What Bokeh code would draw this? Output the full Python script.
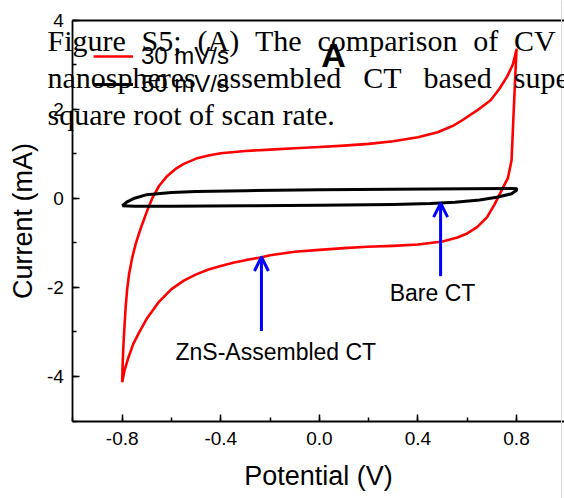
from bokeh.plotting import figure
from bokeh.models import (LinearAxis, SingleIntervalTicker, FixedTicker, PrintfTickFormatter, Label,
                          Arrow, OpenHead, Legend, LegendItem, Range1d, Span)
from bokeh.embed import file_html
from bokeh.resources import INLINE

# ---------------- data ----------------
# ZnS-assembled CT, red loop: anodic branch (-0.8 -> 0.8) then cathodic branch back
zns_v = [-0.800, -0.798, -0.795, -0.791, -0.786, -0.780, -0.772, -0.760, -0.745, -0.725,
         -0.700, -0.678, -0.650, -0.617, -0.580, -0.550, -0.500, -0.450, -0.400, -0.300,
         -0.200, -0.100, 0.000, 0.100, 0.200, 0.300, 0.400, 0.480, 0.540, 0.580,
         0.640, 0.695, 0.730, 0.762, 0.785, 0.800,
         0.793, 0.787, 0.780, 0.765, 0.740, 0.710, 0.680, 0.640, 0.600, 0.560,
         0.500, 0.400, 0.300, 0.194, 0.100, 0.000, -0.100, -0.200, -0.239, -0.300,
         -0.350, -0.400, -0.450, -0.500, -0.550, -0.600, -0.650, -0.700, -0.730, -0.755,
         -0.775, -0.790, -0.800]
zns_i = [-4.13, -3.70, -3.30, -2.90, -2.45, -2.05, -1.70, -1.35, -1.02, -0.68,
         -0.30, 0.00, 0.28, 0.50, 0.67, 0.77, 0.89, 0.96, 1.01, 1.06,
         1.09, 1.12, 1.15, 1.18, 1.22, 1.28, 1.37, 1.48, 1.62, 1.75,
         1.97, 2.20, 2.45, 2.73, 3.00, 3.33,
         2.50, 1.75, 0.85, 0.45, 0.18, -0.15, -0.43, -0.65, -0.79, -0.88,
         -0.97, -1.04, -1.07, -1.09, -1.12, -1.16, -1.20, -1.28, -1.33, -1.39,
         -1.45, -1.52, -1.60, -1.71, -1.85, -2.04, -2.32, -2.70, -3.00, -3.27,
         -3.58, -3.85, -4.13]

# Bare CT, black loop
bare_v = [-0.800, -0.780, -0.750, -0.700, -0.600, -0.500, -0.300, 0.000, 0.300, 0.600,
          0.780, 0.800, 0.800, 0.780, 0.720, 0.650, 0.550, 0.450, 0.300, 0.000,
          -0.300, -0.600, -0.750, -0.800]
bare_i = [-0.17, -0.08, 0.00, 0.08, 0.13, 0.15, 0.17, 0.19, 0.20, 0.21,
          0.22, 0.21, 0.18, 0.10, 0.02, -0.04, -0.09, -0.12, -0.14, -0.16,
          -0.17, -0.18, -0.18, -0.17]

legend_labels = ["30 mV/s", "50 mV/s"]

# annotation arrows: x, tail y, head y
arrow_x = [0.492, -0.235]
arrow_tail = [-1.75, -2.98]
arrow_head = [-0.11, -1.32]
arrow_texts = ["Bare CT", "ZnS-Assembled CT"]

caption_lines = [
    ["Figure", "S5;", "(A)", "The", "comparison", "of", "CV"],
    ["nanospheres", "assembled", "CT", "based", "supe"],
    ["square root of scan rate."],
]

x_label = "Potential (V)"
y_label = "Current (mA)"
panel_title = "A"

AX_X = (-1.0, None)   # x axis starts at -1.0 (open to the right edge)
AX_Y = (-5.0, 4.0)

# ---------------- layout: frame covers the whole canvas ----------------
W, H = 564, 498
kx = 1.6 / (516.0 - 121.7)          # V per pixel
X_START = -0.8 - 121.7 * kx
X_END = X_START + W * kx
ky = 9.0 / (420.5 - 19.5)           # mA per pixel
Y_END = 4.0 + 19.5 * ky
Y_START = Y_END - H * ky


def sx(px):
    return X_START + px * kx


def sy(py):
    return Y_END - py * ky


SANS = "Liberation Sans"
SERIF = "Liberation Serif"

p = figure(width=W, height=H, output_backend="svg", toolbar_location=None,
           x_range=Range1d(X_START, X_END), y_range=Range1d(Y_START, Y_END),
           min_border=0, x_axis_label=x_label, y_axis_label=y_label)
p.outline_line_color = None
p.grid.visible = False
p.background_fill_color = "white"
p.border_fill_color = "white"

xax = p.xaxis[0]
yax = p.yaxis[0]
xax.fixed_location = AX_Y[0]
xax.bounds = (AX_X[0], sx(581))
yax.fixed_location = AX_X[0]
yax.bounds = AX_Y

for ax, interval, fmt in ((xax, 0.4, "%.1f"), (yax, 2, "%d")):
    ax.ticker = SingleIntervalTicker(interval=interval, num_minor_ticks=2)
    ax.formatter = PrintfTickFormatter(format=fmt)
    ax.major_tick_in = 7
    ax.major_tick_out = 0
    ax.minor_tick_in = 4
    ax.minor_tick_out = 0
    ax.axis_line_width = 1.8
    ax.major_tick_line_width = 1.5
    ax.minor_tick_line_width = 1.5
    ax.axis_line_color = "black"
    ax.major_tick_line_color = "black"
    ax.minor_tick_line_color = "black"
    ax.major_label_text_font = SANS
    ax.major_label_text_font_size = "19px"
    ax.major_label_text_color = "black"
    ax.axis_label_text_font = SANS
    ax.axis_label_text_font_size = "27px"
    ax.axis_label_text_font_style = "normal"
    ax.axis_label_text_color = "black"
xax.major_label_standoff = 11
yax.major_label_standoff = 9
xax.axis_label_standoff = 12
yax.axis_label_standoff = 6

top = LinearAxis(ticker=FixedTicker(ticks=[]), major_tick_line_color=None,
                 minor_tick_line_color=None, axis_line_width=1.8, axis_line_color="black",
                 fixed_location=AX_Y[1], bounds=(AX_X[0], X_END))
p.add_layout(top, "above")

# faint border line seen at the right edge of the reference image
p.add_layout(Span(location=sx(561), dimension="height", line_color="#d8d8d8", line_width=1))

red = p.line(zns_v, zns_i, line_color="#ff0000", line_width=2.6, line_join="round")
blk = p.line(bare_v, bare_i, line_color="black", line_width=3, line_join="round")

for xv, yt, yh in zip(arrow_x, arrow_tail, arrow_head):
    p.add_layout(Arrow(end=OpenHead(size=14, line_color="#0000ff", line_width=3),
                       x_start=xv, y_start=yt, x_end=xv, y_end=yh,
                       line_color="#0000ff", line_width=3))

p.add_layout(Label(x=sx(432), y=sy(292), text=arrow_texts[0], text_align="center",
                   text_baseline="middle", text_font=SANS, text_font_size="23px",
                   text_color="black"))
p.add_layout(Label(x=sx(175), y=sy(351), text=arrow_texts[1], text_align="left",
                   text_baseline="middle", text_font=SANS, text_font_size="23px",
                   text_color="black"))

p.add_layout(Label(x=sx(333), y=sy(54), text=panel_title, text_align="center",
                   text_baseline="middle", text_font=SANS, text_font_size="34px",
                   text_font_style="bold", text_color="black"))

legend = Legend(items=[LegendItem(label=legend_labels[0], renderers=[red]),
                       LegendItem(label=legend_labels[1], renderers=[blk])],
                location=(93, 400), margin=0, padding=20, spacing=-4,
                glyph_width=40, label_standoff=8, label_text_color="black",
                label_text_font=SANS, label_text_font_size="24px",
                background_fill_alpha=0, border_line_color=None)
p.add_layout(legend)

# caption text (justified, word by word)
word_x = [[47, 141, 197, 254.4, 317, 472.8, 513.6],
          [47, 215.8, 362.8, 423, 513.3],
          [47]]
base_y = [40, 77, 114]
for words, xs, by in zip(caption_lines, word_x, base_y):
    for w, xpx in zip(words, xs):
        p.add_layout(Label(x=sx(xpx), y=sy(by), text=w, text_align="left",
                           text_baseline="alphabetic", text_font=SERIF,
                           text_font_size="30px", text_color="black"))

open("out.html", "w").write(file_html(p, INLINE))
